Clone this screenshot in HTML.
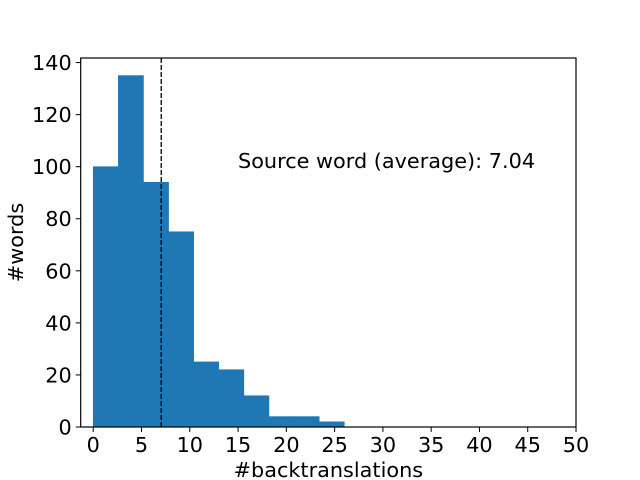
<!DOCTYPE html>
<html><head><meta charset="utf-8"><style>body{margin:0;background:#fff}svg{display:block;font-family:"DejaVu Sans","Liberation Sans",sans-serif}</style></head>
<body>
<svg id="c" width="640" height="480"></svg>
<script>
const binEdges=[0,2.6,5.2,7.8,10.4,13,15.6,18.2,20.8,23.4,26];
const counts=[100,135,94,75,25,22,12,4,4,2];
const xTicks=[0,5,10,15,20,25,30,35,40,45,50];
const yTicks=[0,20,40,60,80,100,120,140];
const meanValue=7.04;
const annotation="Source word (average): 7.04";
const L=80.7,R=576,T=58,B=427,xmin=-1.3,xmax=50,ymin=0,ymax=141.75;
const FS=20.8;
const sx=v=>L+(v-xmin)/(xmax-xmin)*(R-L);
const sy=v=>B-(v-ymin)/(ymax-ymin)*(B-T);
const svg=document.getElementById('c');const NS='http://www.w3.org/2000/svg';
function mk(t,a,txt){const e=document.createElementNS(NS,t);for(const k in a)e.setAttribute(k,a[k]);if(txt!==undefined)e.textContent=txt;svg.appendChild(e);return e;}
counts.forEach((c,i)=>{const x0=sx(binEdges[i]),x1=sx(binEdges[i+1]);
const r=mk('rect',{x:x0,y:sy(c),width:x1-x0,height:sy(0)-sy(c),fill:'#1f77b4',stroke:'#1f77b4','stroke-width':0.6});

});
const ml=mk('line',{x1:sx(meanValue),x2:sx(meanValue),y1:T,y2:B,stroke:'#000','stroke-width':1.3,'stroke-dasharray':'5,2'});


const ax=mk('rect',{x:L,y:T,width:R-L,height:B-T,fill:'none',stroke:'#000','stroke-width':1.2});


xTicks.forEach(v=>{const x=sx(v);mk('line',{x1:x,x2:x,y1:B,y2:B+5,stroke:'#000'});
const t=mk('text',{x:x,y:B+25,'text-anchor':'middle','font-size':FS},String(v));

});
yTicks.forEach(v=>{const y=sy(v);mk('line',{x1:L-5,x2:L,y1:y,y2:y,stroke:'#000'});
const t=mk('text',{x:L-9,y:y+7.5,'text-anchor':'end','font-size':FS},String(v));

});
const xt=mk('text',{x:(L+R)/2,y:477,'text-anchor':'middle','font-size':FS},'#backtranslations');


const yt=mk('text',{x:0,y:0,'text-anchor':'middle','font-size':FS,transform:`translate(23,${(T+B)/2}) rotate(-90)`},'#words');


const an=mk('text',{x:238,y:168,'font-size':FS},annotation);


</script>
</body></html>
